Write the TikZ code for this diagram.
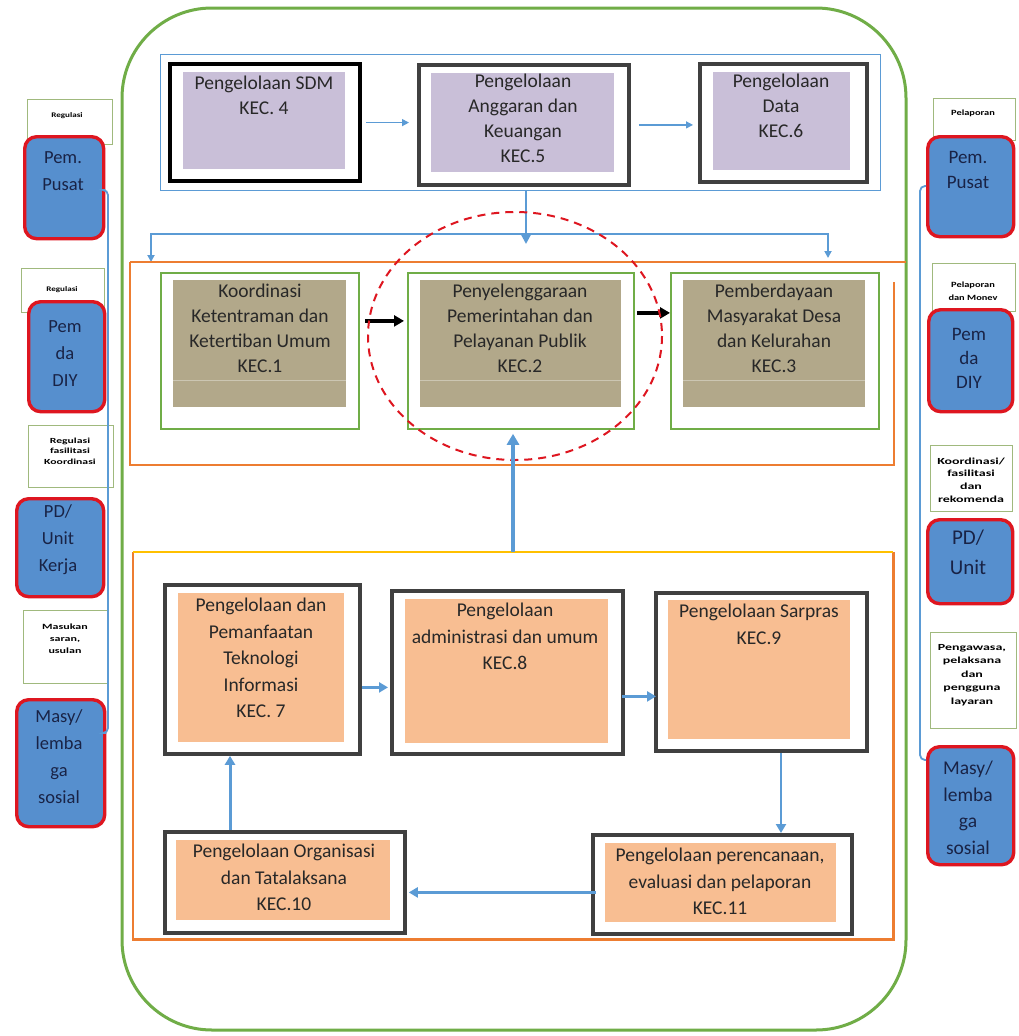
\documentclass[tikz,border=0pt]{standalone}
\usepackage{fontspec}
\setmainfont{Carlito}
\newfontfamily\labfont[FakeStretch=1.3]{Carlito}
\newfontfamily\labfontW[FakeStretch=1.5]{Carlito}
\usetikzlibrary{arrows.meta}
\definecolor{bluefill}{RGB}{86,143,206}
\definecolor{redb}{RGB}{222,22,32}
\definecolor{greenL}{RGB}{112,173,71}
\definecolor{blueL}{RGB}{91,155,213}
\definecolor{orangeL}{RGB}{237,125,49}
\definecolor{yellowL}{RGB}{255,192,0}
\definecolor{lav}{RGB}{201,191,216}
\definecolor{khaki}{RGB}{178,168,138}
\definecolor{salmon}{RGB}{248,190,146}
\definecolor{darkg}{RGB}{64,64,64}
\definecolor{labc}{RGB}{160,185,125}
\definecolor{navy}{RGB}{25,35,70}
\definecolor{txtc}{RGB}{40,40,40}
\tikzset{
  kbox/.style={draw=darkg, line width=3.8, fill=white, anchor=north west, inner sep=0},
  gbox/.style={draw=greenL, line width=1.8, fill=white, anchor=north west, inner sep=0},
  fbox/.style={draw=none, anchor=north west, inner sep=0},
  ktxt/.style={anchor=north, align=center, text=txtc, inner sep=0, font=\fontsize{19.5}{25}\selectfont},
  lab/.style={draw=labc, line width=0.9, fill=white, anchor=north west, inner sep=0},
  labtxt/.style={align=center, inner sep=0, text=black, font=\labfont\fontsize{8}{10}\selectfont\bfseries},
  pbox/.style={draw=redb, line width=3.4, fill=bluefill, rounded corners=12, anchor=north west, inner sep=0},
  ptxt/.style={anchor=north, align=center, text=navy, inner sep=0, font=\fontsize{18.5}{27}\selectfont},
  tarr/.style={blueL, line width=1.3, -{Triangle[length=7,width=7]}},
  marr/.style={blueL, line width=2.6, -{Triangle[length=9,width=10]}},
  karr/.style={black, line width=3.4, -{Triangle[length=10,width=11]}},
}
\begin{document}
\begin{tikzpicture}[x=1pt,y=-1pt]
\useasboundingbox (0,0) rectangle (1019,1036);
\fill[white] (0,0) rectangle (1019,1036);

% outer green frame
\draw[greenL, line width=3, rounded corners=90] (122,8) rectangle (906,1030);

% ===== top group =====
\node[draw=blueL, line width=1.3, fill=none, anchor=north west, inner sep=0,
      minimum width=720, minimum height=136] (topgrp) at (160,54) {};
\node[kbox, draw=black, line width=4.2, minimum width=190, minimum height=117] (k4) at (168,62) {};
\node[fbox, fill=lav, minimum width=162, minimum height=97] at (183,72) {};
\node[ktxt] (t4) at (264,76) {Pengelolaan SDM\\KEC. 4};

\node[kbox, minimum width=210, minimum height=120] (k5) at (417,63) {};
\node[fbox, fill=lav, minimum width=183, minimum height=99] at (431,73) {};
\node[ktxt] (t5) at (523,74) {Pengelolaan\\Anggaran dan\\Keuangan\\KEC.5};

\node[kbox, minimum width=167, minimum height=118] (k6) at (698,62) {};
\node[fbox, fill=lav, minimum width=137, minimum height=98] at (713,72) {};
\node[ktxt] (t6) at (781,74) {Pengelolaan\\Data\\KEC.6};

\draw[tarr, shorten <=4, shorten >=8] (k4.east) -- (k4.east -| k5.west);
\draw[tarr, shorten <=8, shorten >=5] (k5.east) -- (k5.east -| k6.west);

% distribution arrows
\coordinate (split) at (526,234);
\coordinate (dl) at (151,262);
\coordinate (dr) at (828,258);
\draw[blueL, line width=2] (topgrp.south -| split) -- (split);
\draw[blueL, line width=2, -{Triangle[length=9,width=9]}] (topgrp.south -| split) -- ([yshift=-10]split);
\draw[tarr, line width=2.2] (split) -| (dl);
\draw[tarr, line width=2.2] (split) -| (dr);

% ===== middle group =====
\draw[orangeL, line width=2.6] (130,262) -- (906,262);
\draw[orangeL, line width=2.6] (130,262) -- (130,465) -- (894,465) -- (894,282);

\node[gbox, minimum width=198, minimum height=156] (c1) at (160,272) {};
\node[fbox, fill=khaki, minimum width=173, minimum height=127] at (173,280) {};
\draw[white, opacity=0.35, line width=0.8] (173,380) -- (346,380);
\node[ktxt] (tc1) at (260,284) {Koordinasi\\Ketentraman dan\\Ketertiban Umum\\KEC.1};

\node[gbox, minimum width=226, minimum height=156] (c2) at (407,272) {};
\node[fbox, fill=khaki, minimum width=201, minimum height=127] at (420,280) {};
\draw[white, opacity=0.35, line width=0.8] (420,380) -- (621,380);
\node[ktxt] (tc2) at (520,284) {Penyelenggaraan\\Pemerintahan dan\\Pelayanan Publik\\KEC.2};

\node[gbox, minimum width=208, minimum height=156] (c3) at (670,272) {};
\node[fbox, fill=khaki, minimum width=182, minimum height=127] at (683,280) {};
\draw[white, opacity=0.35, line width=0.8] (683,380) -- (865,380);
\node[ktxt] (tc3) at (774,284) {Pemberdayaan\\Masyarakat Desa\\dan Kelurahan\\KEC.3};

\draw[karr, shorten <=5, shorten >=3] ([yshift=30]c1.east) -- ([yshift=30]c1.east -| c2.west);
\draw[karr, shorten <=2, shorten >=0] ([yshift=38]c2.east) -- ([yshift=38]c2.east -| c3.west);

% red dashed circle
\draw[redb, line width=2, dash pattern=on 8pt off 6pt] (515,336) ellipse [x radius=147, y radius=124];

% ===== bottom group =====
\node[draw=none, anchor=north west, inner sep=0, minimum width=760, minimum height=387] (botgrp) at (133,552) {};
\draw[orangeL, line width=2.6] (botgrp.north west) -- (botgrp.south west) -- (botgrp.south east) -- (botgrp.north east);
\draw[yellowL, line width=2.6] (botgrp.north west) -- (botgrp.north east);

\coordinate (upx) at (513,0);
\draw[marr, line width=3.4, -{Triangle[length=11,width=12]}, shorten >=4] (botgrp.north -| upx) -- (c2.south -| upx);

\node[kbox, minimum width=195, minimum height=169] (b7) at (163,583) {};
\node[fbox, fill=salmon, minimum width=166, minimum height=149] at (178,593) {};
\node[ktxt, font=\fontsize{19.5}{26.5}\selectfont] (t7) at (261,598) {Pengelolaan dan\\Pemanfaatan\\Teknologi\\Informasi\\KEC. 7};

\node[kbox, minimum width=231, minimum height=163] (b8) at (390,589) {};
\node[fbox, fill=salmon, minimum width=203, minimum height=144] at (405,599) {};
\node[ktxt, font=\fontsize{19.5}{26.5}\selectfont] (t8) at (505,603) {Pengelolaan\\administrasi dan umum\\KEC.8};

\node[kbox, minimum width=211, minimum height=158] (b9) at (654,591) {};
\node[fbox, fill=salmon, minimum width=182, minimum height=139] at (668,600) {};
\node[ktxt, font=\fontsize{19.5}{26.5}\selectfont] (t9) at (759,604) {Pengelolaan Sarpras\\KEC.9};

\node[kbox, minimum width=259, minimum height=99] (b11) at (591,833) {};
\node[fbox, fill=salmon, minimum width=231, minimum height=79] at (605,843) {};
\node[ktxt, font=\fontsize{19.5}{26.5}\selectfont] (t11) at (720,848) {Pengelolaan perencanaan,\\evaluasi dan pelaporan\\KEC.11};

\node[kbox, minimum width=240, minimum height=101] (b10) at (163,830) {};
\node[fbox, fill=salmon, minimum width=214, minimum height=80] at (176,840) {};
\node[ktxt, font=\fontsize{19.5}{26.5}\selectfont] (t10) at (284,844) {Pengelolaan Organisasi\\dan Tatalaksana\\KEC.10};

\coordinate (dx) at (781,0);
\coordinate (ux) at (230,0);
\draw[marr, shorten >=2] ([yshift=-18]b7.east) -- ([yshift=-18]b7.east -| b8.west);
\draw[marr, shorten <=-3, shorten >=-2] ([yshift=-24]b8.east) -- ([yshift=-24]b8.east -| b9.west);
\draw[marr, line width=2.2] (b9.south -| dx) -- (b11.north -| dx);
\draw[marr, line width=3, shorten <=-5, shorten >=2] ([yshift=-8]b11.west) -- ([yshift=-8]b11.west -| b10.east);
\draw[marr, line width=3] (b10.north -| ux) -- (b7.south -| ux);

% ===== left side =====
\node[lab, minimum width=85, minimum height=45] (l1) at (27,99) {};
\node[labtxt, font=\labfont\fontsize{7}{9}\selectfont\bfseries] at (67,116) {Regulasi};
\node[pbox, minimum width=79, minimum height=102] (p1) at (23,135) {};
\node[ptxt] at (63,151) {Pem.\\Pusat};

\node[lab, minimum width=83, minimum height=44] (l2) at (21,268) {};
\node[labtxt, font=\labfont\fontsize{7}{9}\selectfont\bfseries] at (62,290) {Regulasi};
\node[pbox, minimum width=76, minimum height=110] (p2) at (27,300) {};
\node[ptxt] at (65,320) {Pem\\da\\DIY};

\node[lab, minimum width=85, minimum height=62] (l3) at (28,425) {};
\node[labtxt, font=\labfontW\fontsize{7.8}{10.5}\selectfont\bfseries] at (70,451) {Regulasi\\fasilitasi\\Koordinasi};
\node[pbox, minimum width=87, minimum height=98] (p3) at (15,497) {};
\node[ptxt] at (58,504) {PD/\\Unit\\Kerja};

\node[lab, minimum width=84, minimum height=73] (l4) at (23,610) {};
\node[labtxt, font=\labfontW\fontsize{8}{12}\selectfont\bfseries] at (65,639) {Masukan\\saran,\\usulan};
\node[pbox, minimum width=88, minimum height=127] (p4) at (15,698) {};
\node[ptxt] at (59,709) {Masy/\\lemba\\ga\\sosial};

\draw[blueL, line width=1.8, rounded corners=5] (p1.east |- 0,190) -| (108,733) -- (p4.east |- 0,733);

% ===== right side =====
\node[lab, minimum width=82, minimum height=42] (r1) at (933,98) {};
\node[labtxt, font=\labfont\fontsize{8}{9}\selectfont\bfseries] at (973,113) {Pelaporan};
\node[pbox, minimum width=86, minimum height=100] (q1) at (926,135) {};
\node[ptxt, font=\fontsize{19}{25}\selectfont] at (968,151) {Pem.\\Pusat};

\node[lab, minimum width=83, minimum height=48] (r2) at (932,263) {};
\node[labtxt, font=\labfont\fontsize{8}{13}\selectfont\bfseries] at (973,291) {Pelaporan\\dan Monev};
\node[pbox, minimum width=84, minimum height=102] (q2) at (927,308) {};
\node[ptxt, font=\fontsize{19}{24}\selectfont] at (969,328) {Pem\\da\\DIY};

\node[lab, minimum width=82, minimum height=66] (r3) at (930,445) {};
\node[labtxt, font=\labfontW\fontsize{9.3}{12.8}\selectfont\bfseries] at (971,480) {Koordinasi/\\fasilitasi\\dan\\rekomenda};
\node[pbox, minimum width=85, minimum height=84] (q3) at (926,518) {};
\node[ptxt, font=\fontsize{21}{30}\selectfont] at (968,530) {PD/\\Unit};

\node[lab, minimum width=86, minimum height=96] (r4) at (930,632) {};
\node[labtxt, font=\labfontW\fontsize{9.3}{13.5}\selectfont\bfseries] at (972,675) {Pengawasa,\\pelaksana\\dan\\pengguna\\layaran};
\node[pbox, minimum width=86, minimum height=118] (q4) at (926,745) {};
\node[ptxt, font=\fontsize{19.5}{26.5}\selectfont] at (968,761) {Masy/\\lemba\\ga\\sosial};

\draw[blueL, line width=1.8, rounded corners=5] (q1.west |- 0,186) -| (920,760) -- (q4.west |- 0,760);
\end{tikzpicture}
\end{document}
